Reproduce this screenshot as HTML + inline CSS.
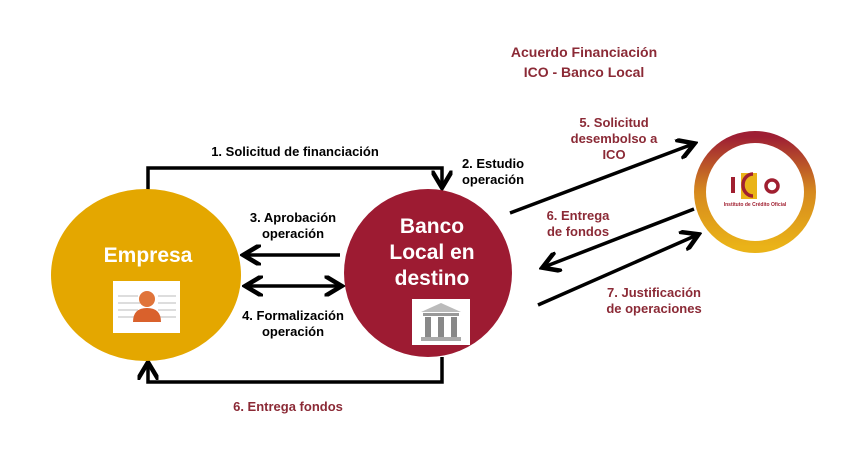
<!DOCTYPE html>
<html><head><meta charset="utf-8"><style>
html,body{margin:0;padding:0;background:#fff;}
svg{display:block;font-family:"Liberation Sans",Arial,sans-serif;font-weight:bold;}
</style></head><body>
<svg width="864" height="455" viewBox="0 0 864 455" xmlns="http://www.w3.org/2000/svg">
<defs>
<marker id="ah" markerWidth="6" markerHeight="6" refX="4.5" refY="3" orient="auto" markerUnits="strokeWidth">
<path d="M0,0 L5,3 L0,6" fill="none" stroke="#000" stroke-width="1.3"/>
</marker>
<marker id="ahs" markerWidth="6" markerHeight="6" refX="1.5" refY="3" orient="auto" markerUnits="strokeWidth">
<path d="M6,0 L1,3 L6,6" fill="none" stroke="#000" stroke-width="1.3"/>
</marker>
<linearGradient id="ring" x1="0" y1="0" x2="0" y2="1">
<stop offset="0" stop-color="#9e1f34"/><stop offset="0.5" stop-color="#d68a1e"/><stop offset="1" stop-color="#eab318"/>
</linearGradient>
</defs>
<rect width="864" height="455" fill="#fff"/>

<path d="M148,190 V168 H442 V186" fill="none" stroke="#000" stroke-width="3.5" marker-end="url(#ah)"/>
<path d="M442,357 V382 H148 V364" fill="none" stroke="#000" stroke-width="3.5" marker-end="url(#ah)"/>
<line x1="340" y1="255" x2="245" y2="255" stroke="#000" stroke-width="3.5" marker-end="url(#ah)"/>
<line x1="247" y1="286" x2="340" y2="286" stroke="#000" stroke-width="3.5" marker-end="url(#ah)" marker-start="url(#ahs)"/>
<line x1="510" y1="213" x2="693" y2="144" stroke="#000" stroke-width="3.5" marker-end="url(#ah)"/>
<line x1="694" y1="209" x2="544" y2="267" stroke="#000" stroke-width="3.5" marker-end="url(#ah)"/>
<line x1="538" y1="305" x2="697" y2="235" stroke="#000" stroke-width="3.5" marker-end="url(#ah)"/>

<ellipse cx="146" cy="275" rx="95" ry="86" fill="#e4a700"/>
<text x="148" y="262" font-size="21" fill="#fff" text-anchor="middle">Empresa</text>
<rect x="113" y="281" width="67" height="52" fill="#fff"/>
<g fill="#ddd"><rect x="118" y="295" width="20" height="2"/><rect x="118" y="302" width="22" height="2"/><rect x="118" y="309" width="20" height="2"/><rect x="118" y="316" width="20" height="2"/><rect x="158" y="295" width="18" height="2"/><rect x="158" y="302" width="18" height="2"/><rect x="158" y="309" width="18" height="2"/><rect x="158" y="316" width="18" height="2"/></g>
<circle cx="147" cy="299" r="8" fill="#e0743a"/>
<path d="M133,322 Q133,308 147,308 Q161,308 161,322 Z" fill="#d9612c"/>

<ellipse cx="428" cy="273" rx="84" ry="84" fill="#9d1b32"/>
<text x="432" y="233" font-size="21" fill="#fff" text-anchor="middle">Banco</text>
<text x="432" y="259" font-size="21" fill="#fff" text-anchor="middle">Local en</text>
<text x="432" y="285" font-size="21" fill="#fff" text-anchor="middle">destino</text>
<rect x="412" y="299" width="58" height="46" fill="#fff"/>
<path d="M421,312 L441,303 L461,312 Z" fill="#bbb"/>
<rect x="423" y="313" width="36" height="3" fill="#999"/>
<rect x="425" y="317" width="6" height="20" fill="#888"/><rect x="438" y="317" width="6" height="20" fill="#888"/><rect x="451" y="317" width="6" height="20" fill="#888"/>
<rect x="421" y="337" width="40" height="4" fill="#aaa"/>

<circle cx="755" cy="192" r="55" fill="#fff" stroke="url(#ring)" stroke-width="12"/>
<rect x="741" y="173" width="16" height="26" fill="#eab318"/>
<rect x="731" y="177" width="4" height="16" fill="#a01f30"/>
<path d="M753,174 A10,11 0 1 0 753,196" fill="none" stroke="#a01f30" stroke-width="3.5"/>
<circle cx="772" cy="186" r="6" fill="none" stroke="#a01f30" stroke-width="3.5"/>
<text x="755" y="206" font-size="5" fill="#a01f30" text-anchor="middle">Instituto de Crédito Oficial</text>

<g font-size="13" text-anchor="middle" fill="#000">
<text x="295" y="156">1. Solicitud de financiación</text>
<text x="493" y="168">2. Estudio</text>
<text x="493" y="184">operación</text>
<text x="293" y="222">3. Aprobación</text>
<text x="293" y="238">operación</text>
<text x="293" y="320">4. Formalización</text>
<text x="293" y="336">operación</text>
</g>
<g font-size="13" text-anchor="middle" fill="#8b2a36">
<text x="288" y="411">6. Entrega fondos</text>
<text x="584" y="57" font-size="14">Acuerdo Financiación</text>
<text x="584" y="77" font-size="14">ICO - Banco Local</text>
<text x="614" y="127">5. Solicitud</text>
<text x="614" y="143">desembolso a</text>
<text x="614" y="159">ICO</text>
<text x="578" y="220">6. Entrega</text>
<text x="578" y="236">de fondos</text>
<text x="654" y="297">7. Justificación</text>
<text x="654" y="313">de operaciones</text>
</g>
</svg>
</body></html>
